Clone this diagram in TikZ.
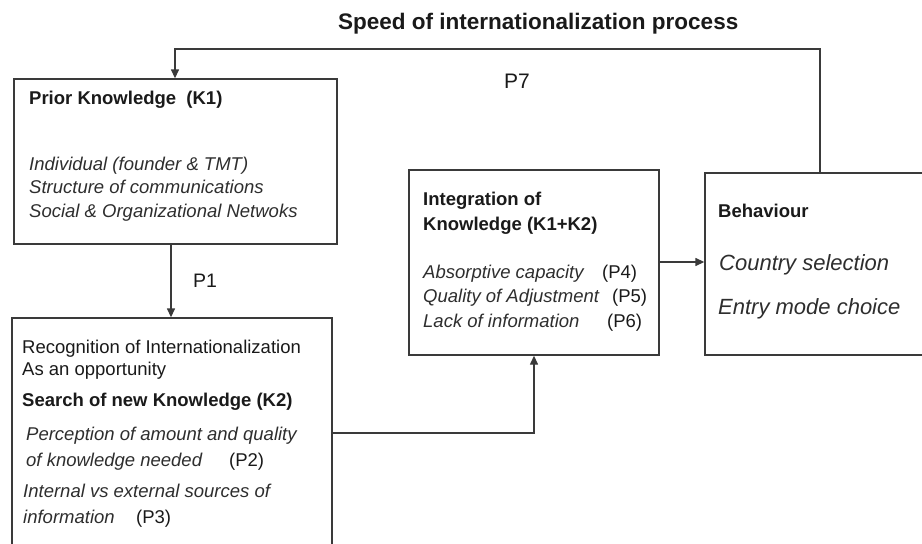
\documentclass[tikz,border=0pt]{standalone}
\usepackage{fontspec}
\setmainfont{Liberation Sans}
\usetikzlibrary{arrows.meta}
\definecolor{linec}{HTML}{3A3A3A}
\definecolor{txtc}{HTML}{1A1A1A}
\definecolor{itc}{HTML}{2E2E2E}
\tikzset{
  box/.style={draw=linec, line width=1.4pt, rectangle, inner sep=0pt, fill=none},
  arr/.style={draw=linec, line width=1.4pt, -{Triangle[length=9pt,width=8pt]}},
  tx/.style={anchor=base west, inner sep=0pt, text=txtc, font=\fontsize{18.5}{22}\selectfont},
  txb/.style={tx, font=\fontsize{18.5}{22}\selectfont\bfseries},
  txi/.style={tx, text=itc, font=\fontsize{18.5}{22}\selectfont\itshape},
  txbig/.style={tx, text=itc, font=\fontsize{22}{26}\selectfont\itshape},
}
\begin{document}
\begin{tikzpicture}[x=1pt,y=-1pt]
\useasboundingbox (0,0) rectangle (922,544);
\clip (0,0) rectangle (922,544);
\fill[white] (0,0) rectangle (922,544);
% boxes
\node[box, minimum width=323pt, minimum height=165pt] (k1) at (175.5,161.5) {};
\node[box, minimum width=320pt, minimum height=242pt] (k2) at (172,439) {};
\node[box, minimum width=250pt, minimum height=185pt] (int) at (534,262.5) {};
\node[box, minimum width=235pt, minimum height=182pt] (beh) at (822.5,264) {};
% title and labels
\node[tx, font=\fontsize{22.5}{26}\selectfont\bfseries] (title) at (338,29) {Speed of internationalization process};
\node[tx, font=\fontsize{21}{25}\selectfont] (p7) at (504,88) {P7};
\node[tx, font=\fontsize{19.5}{23}\selectfont] (p1) at (193,287) {P1};
% K1 text
\node[txb] (k1h) at (29,104) {Prior Knowledge\ \ (K1)};
\node[txi] (k1a) at (29,170) {Individual (founder \& TMT)};
\node[txi] (k1b) at (29,193) {Structure of communications};
\node[txi] (k1c) at (29,217) {Social \& Organizational Netwoks};
% K2 text
\node[tx] (k2a) at (22,353) {Recognition of Internationalization};
\node[tx] (k2b) at (22,375) {As an opportunity};
\node[txb] (k2h) at (22,406) {Search of new Knowledge (K2)};
\node[txi] (k2c) at (26,440) {Perception of amount and quality};
\node[txi] (k2d) at (26,466) {of knowledge needed};
\node[tx] (k2p2) at (229,466) {(P2)};
\node[txi] (k2e) at (23,497) {Internal vs external sources of};
\node[txi] (k2f) at (23,523) {information};
\node[tx] (k2p3) at (136,523) {(P3)};
% Integration text
\node[txb] (inh1) at (423,205) {Integration of};
\node[txb] (inh2) at (423,230) {Knowledge (K1+K2)};
\node[txi] (in1) at (423,278) {Absorptive capacity};
\node[tx] (in1p) at (602,278) {(P4)};
\node[txi] (in2) at (423,302) {Quality of Adjustment};
\node[tx] (in2p) at (612,302) {(P5)};
\node[txi] (in3) at (423,327) {Lack of information};
\node[tx] (in3p) at (607,327) {(P6)};
% Behaviour text
\node[txb] (bh) at (718,217) {Behaviour};
\node[txbig] (b1) at (719,270) {Country selection};
\node[txbig] (b2) at (718,314) {Entry mode choice};
% connectors
\coordinate (t1) at (820,49);
\coordinate (t2) at (175,49);
\draw[arr] (beh.north -| t1) -- (t1) -- (t2) -- (k1.north -| t2);
\coordinate (p1x) at (171,0);
\draw[arr] (k1.south -| p1x) -- (k2.north -| p1x);
\coordinate (h2) at (0,433);
\draw[arr] (k2.east |- h2) -| (int.south);
\coordinate (h1) at (0,262);
\draw[arr] (int.east |- h1) -- (beh.west |- h1);
\end{tikzpicture}
\end{document}
